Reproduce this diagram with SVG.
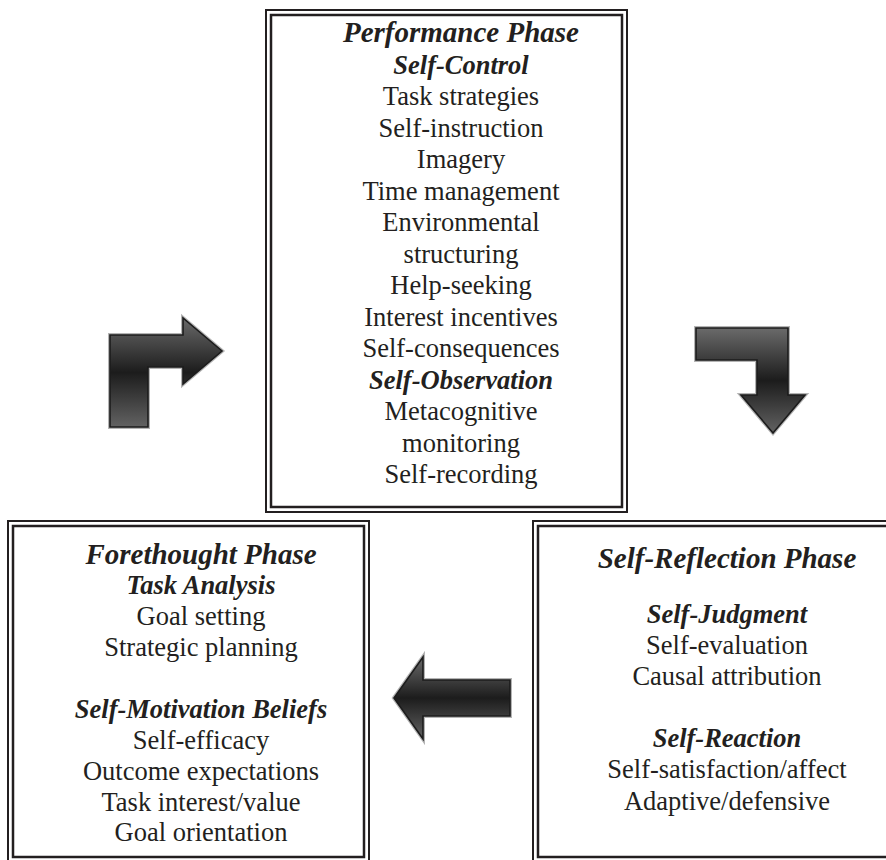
<svg xmlns="http://www.w3.org/2000/svg" width="886" height="860" viewBox="0 0 886 860">
  <style>
    .frame-outer { fill: none; stroke: #231f20; stroke-width: 2; }
    .frame-inner { fill: none; stroke: #231f20; stroke-width: 2.5; }
    text { font-family: "Liberation Serif", "Times New Roman", serif; fill: #231f20; text-anchor: middle; }
    .title { font-size: 29px; font-weight: bold; font-style: italic; }
    .head { font-size: 26.5px; font-weight: bold; font-style: italic; }
    .item { font-size: 26.5px; }
    .arrow-halo { fill: none; stroke: #b4b4b4; stroke-width: 4; stroke-linejoin: miter; }
    .arrow { fill: url(#metal); stroke: #1c1c1c; stroke-width: 1.6; stroke-linejoin: miter; }
  </style>
  <defs>
    <linearGradient id="metal" x1="0" y1="0" x2="0" y2="1">
      <stop offset="0" stop-color="#6a6a6a"/>
      <stop offset="0.5" stop-color="#1c1c1c"/>
      <stop offset="1" stop-color="#626262"/>
    </linearGradient>
  </defs>

  <rect width="886" height="860" fill="#ffffff"/>

  <!-- Performance phase (top) -->
  <g id="node-performance">
    <rect class="frame-outer" x="266" y="10" width="361" height="502"/>
    <rect class="frame-inner" x="271" y="15" width="351" height="492"/>
    <text class="title" x="461" y="42">Performance Phase</text>
    <text class="head" x="461" y="73.5">Self-Control</text>
    <text class="item" x="461" y="105">Task strategies</text>
    <text class="item" x="461" y="136.5">Self-instruction</text>
    <text class="item" x="461" y="168">Imagery</text>
    <text class="item" x="461" y="199.5">Time management</text>
    <text class="item" x="461" y="231">Environmental</text>
    <text class="item" x="461" y="262.5">structuring</text>
    <text class="item" x="461" y="294">Help-seeking</text>
    <text class="item" x="461" y="325.5">Interest incentives</text>
    <text class="item" x="461" y="357">Self-consequences</text>
    <text class="head" x="461" y="388.5">Self-Observation</text>
    <text class="item" x="461" y="420">Metacognitive</text>
    <text class="item" x="461" y="451.5">monitoring</text>
    <text class="item" x="461" y="483">Self-recording</text>
  </g>

  <!-- Forethought phase (bottom left) -->
  <g id="node-forethought">
    <rect class="frame-outer" x="8" y="521" width="361" height="341"/>
    <rect class="frame-inner" x="13" y="526" width="351" height="331"/>
    <text class="title" x="201" y="564">Forethought Phase</text>
    <text class="head" x="201" y="594">Task Analysis</text>
    <text class="item" x="201" y="625">Goal setting</text>
    <text class="item" x="201" y="656">Strategic planning</text>
    <text class="head" x="201" y="718">Self-Motivation Beliefs</text>
    <text class="item" x="201" y="749">Self-efficacy</text>
    <text class="item" x="201" y="780">Outcome expectations</text>
    <text class="item" x="201" y="811">Task interest/value</text>
    <text class="item" x="201" y="841">Goal orientation</text>
  </g>

  <!-- Self-reflection phase (bottom right) -->
  <g id="node-reflection">
    <rect class="frame-outer" x="533" y="521" width="362" height="341"/>
    <rect class="frame-inner" x="538" y="526" width="352" height="331"/>
    <text class="title" x="727" y="568">Self-Reflection Phase</text>
    <text class="head" x="727" y="623">Self-Judgment</text>
    <text class="item" x="727" y="654">Self-evaluation</text>
    <text class="item" x="727" y="685">Causal attribution</text>
    <text class="head" x="727" y="747">Self-Reaction</text>
    <text class="item" x="727" y="778">Self-satisfaction/affect</text>
    <text class="item" x="727" y="810">Adaptive/defensive</text>
  </g>

  <!-- Cycle arrows -->
  <g id="connectors">
    <!-- forethought -> performance -->
    <path class="arrow-halo" d="M110,427 L110,335 L183,335 L183,318 L222,351 L183,384 L183,367 L148,367 L148,427 Z"/>
    <path class="arrow" d="M110,427 L110,335 L183,335 L183,318 L222,351 L183,384 L183,367 L148,367 L148,427 Z"/>
    <!-- performance -> self-reflection -->
    <path class="arrow-halo" d="M696,328 L788,328 L788,395 L805,395 L773,433 L741,395 L757,395 L757,360 L696,360 Z"/>
    <path class="arrow" d="M696,328 L788,328 L788,395 L805,395 L773,433 L741,395 L757,395 L757,360 L696,360 Z"/>
    <!-- self-reflection -> forethought -->
    <path class="arrow-halo" d="M394,698 L423,657 L423,680 L510,680 L510,716 L423,716 L423,739 Z"/>
    <path class="arrow" d="M394,698 L423,657 L423,680 L510,680 L510,716 L423,716 L423,739 Z"/>
  </g>
</svg>
